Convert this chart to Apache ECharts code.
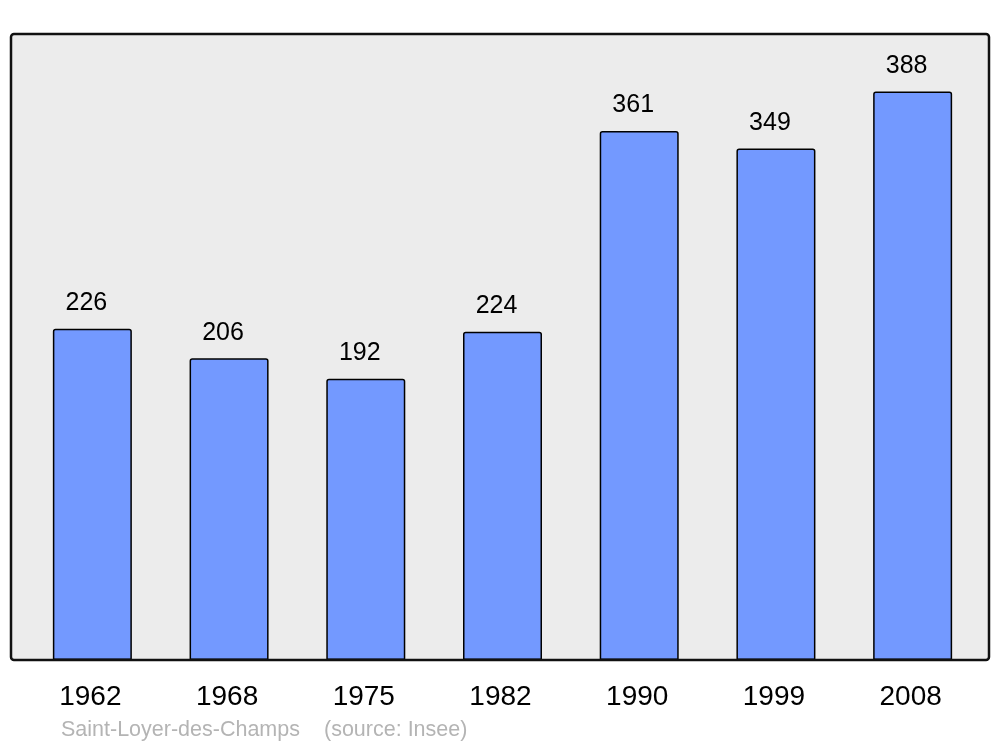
<!DOCTYPE html>
<html><head><meta charset="utf-8">
<script src="https://cdn.jsdelivr.net/npm/echarts@6/dist/echarts.min.js"></script>
<style>html,body{margin:0;padding:0;background:#fff}#c{width:1000px;height:747px}</style>
</head><body><div id="c"></div>
<script>
const years = ['1962','1968','1975','1982','1990','1999','2008'];
const population = [226, 206, 192, 224, 361, 349, 388];
const placeName = 'Saint-Loyer-des-Champs';
const sourceText = '(source: Insee)';

const chart = echarts.init(document.getElementById('c'), null, {renderer:'canvas'});
chart.setOption({
  animation: false,
  backgroundColor: '#ffffff',
  grid: {left: 24, right: 19, top: 34, bottom: 87},
  xAxis: {
    type: 'category', data: years,
    axisLine: {show: false}, axisTick: {show: false},
    axisLabel: {fontFamily: 'Liberation Sans', fontSize: 28, color: '#000', margin: 23,
                padding: [0, 4, 0, 0]}
  },
  yAxis: {type: 'value', min: 0, max: 427.2, show: false, splitLine: {show: false}},
  graphic: [
    {type: 'rect', z: -10, shape: {x: 11, y: 34, width: 978, height: 626, r: 3},
     style: {fill: '#ececec', stroke: 'none'}},
    {type: 'rect', z: 100, shape: {x: 11, y: 34, width: 978, height: 626, r: 3},
     style: {fill: 'none', stroke: '#111', lineWidth: 2.5}},
    {type: 'text', z: 100, left: 61, top: 719,
     style: {text: placeName, fill: '#b4b4b4', font: '21.5px "Liberation Sans"'}},
    {type: 'text', z: 100, left: 324, top: 719,
     style: {text: sourceText, fill: '#b4b4b4', font: '21.5px "Liberation Sans"'}}
  ],
  series: [{
    type: 'bar', data: population, barWidth: 79,
    itemStyle: {color: '#7399ff', borderColor: '#000', borderWidth: 1.5, borderRadius: [2,2,0,0]},
    label: {show: true, position: 'top', distance: 13, offset: [-6, 0],
            fontFamily: 'Liberation Sans', fontSize: 25, color: '#000'}
  }]
});
</script></body></html>
